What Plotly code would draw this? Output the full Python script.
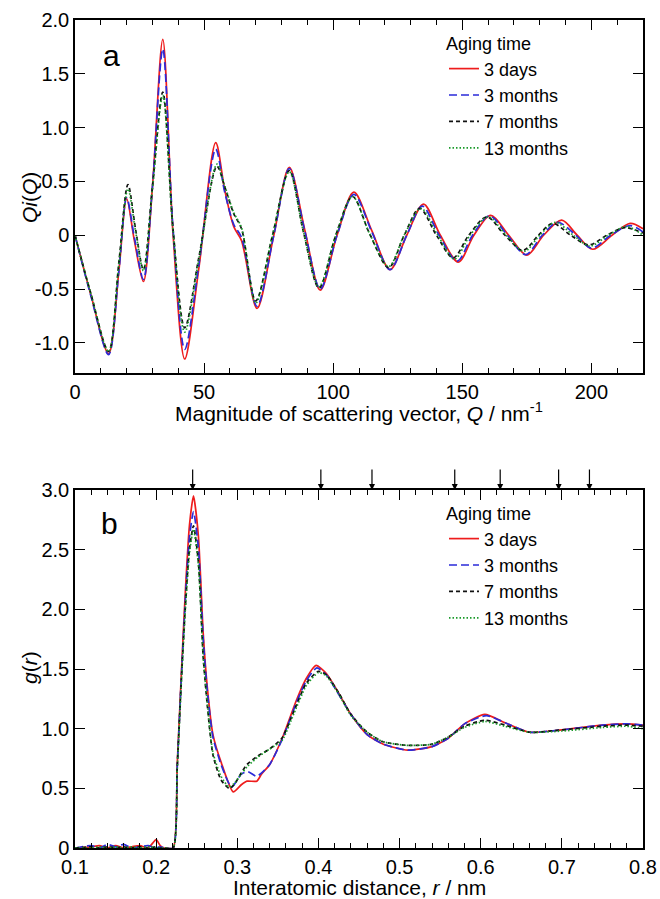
import plotly.graph_objects as go

# ---------------- Panel a : Qi(Q) ----------------
series_names = ["3 days", "3 months", "7 months", "13 months"]

q_3d = [0, 6, 13, 17, 20, 23, 26.5, 30, 34, 38, 42.5, 48, 54.5, 58, 61.5, 64.5, 70.5, 77, 83, 89, 95,
        101.5, 108, 115, 122, 128.5, 135, 141.5, 148.5, 154.5, 161, 168, 175, 181.5, 188.5, 194.5, 200.5, 208, 215, 220]
qi_3d = [0, -0.54, -1.10, -0.33, 0.34, -0.05, -0.43, 0.45, 1.82, 0.0, -1.15, -0.30, 0.86, 0.42, 0.08, -0.05, -0.68, 0.0, 0.63, 0.05, -0.51,
         0.0, 0.40, 0.04, -0.32, 0.0, 0.29, 0.0, -0.25, 0.0, 0.185, 0.0, -0.185, 0.0, 0.14, 0.0, -0.13, 0.0, 0.11, 0.06]

q_3m = [0, 6, 13, 17, 20, 23, 26.5, 30, 34, 38, 42.5, 48, 54.5, 58, 61.5, 64.5, 70.5, 77, 83, 89, 95,
        101.5, 108, 115, 122, 128.5, 134.5, 141, 148, 154, 160.5, 167.5, 174.5, 181, 187, 194, 200, 207.5, 215, 220]
qi_3m = [0, -0.55, -1.11, -0.33, 0.35, -0.02, -0.41, 0.45, 1.73, 0.05, -1.06, -0.27, 0.80, 0.40, 0.10, -0.02, -0.66, 0.0, 0.62, 0.04, -0.50,
         0.0, 0.38, 0.03, -0.32, 0.0, 0.27, 0.0, -0.24, 0.0, 0.18, 0.0, -0.18, 0.0, 0.12, 0.0, -0.12, 0.0, 0.09, 0.03]

q_7m = [0, 6, 13, 17, 20.5, 23.5, 26.5, 30, 34, 38, 42.5, 48, 55, 58, 61.5, 64.5, 70, 76.5, 83, 88.5, 94.5,
        101, 107.5, 114, 121.5, 127.5, 133.5, 140, 146.5, 152.5, 159.5, 166.5, 173.5, 179.5, 185, 192, 199, 206, 213, 220]
qi_7m = [0, -0.53, -1.08, -0.25, 0.47, 0.05, -0.32, 0.45, 1.33, 0.05, -0.86, -0.20, 0.64, 0.45, 0.20, 0.06, -0.61, 0.0, 0.60, 0.03, -0.49,
         0.0, 0.36, 0.02, -0.30, 0.0, 0.25, 0.0, -0.21, 0.0, 0.17, 0.0, -0.14, 0.0, 0.11, 0.0, -0.09, 0.0, 0.07, 0.02]

q_13m = [0, 6, 13, 17, 20.5, 23.5, 26.5, 30, 34, 38, 42.5, 48, 55, 58, 61.5, 64.5, 70, 76.5, 83, 88.5, 94.5,
         101, 107.5, 114, 121.5, 127.5, 134, 140.5, 147, 153, 160, 167, 174, 180, 186, 193, 199.5, 206.5, 213.5, 220]
qi_13m = [0, -0.53, -1.08, -0.27, 0.43, 0.03, -0.33, 0.43, 1.30, 0.03, -0.90, -0.22, 0.66, 0.46, 0.21, 0.07, -0.63, 0.0, 0.59, 0.03, -0.48,
          0.0, 0.36, 0.02, -0.29, 0.0, 0.25, 0.0, -0.22, 0.0, 0.17, 0.0, -0.15, 0.0, 0.12, 0.0, -0.10, 0.0, 0.08, 0.0]

# ---------------- Panel b : g(r) ----------------
r_3d = [0.10, 0.12, 0.13, 0.14, 0.15, 0.16, 0.17, 0.18, 0.19, 0.20, 0.205, 0.21, 0.221, 0.226, 0.231, 0.236, 0.241, 0.246,
        0.252, 0.258, 0.263, 0.27, 0.28, 0.295, 0.305, 0.312, 0.324, 0.33, 0.34, 0.356, 0.373, 0.385, 0.397, 0.41, 0.423,
        0.44, 0.46, 0.48, 0.51, 0.54, 0.56, 0.58, 0.605, 0.63, 0.66, 0.70, 0.75, 0.78, 0.80]
g_3d = [0.0, 0.01, 0.02, 0.0, 0.02, 0.0, 0.01, 0.02, 0.0, 0.07, 0.02, 0.0, 0.0, 0.70, 1.45, 2.15, 2.70, 2.95,
        2.62, 1.80, 1.35, 0.95, 0.72, 0.47, 0.53, 0.56, 0.56, 0.62, 0.70, 0.93, 1.24, 1.42, 1.53, 1.46, 1.32,
        1.12, 0.95, 0.87, 0.82, 0.85, 0.92, 1.04, 1.12, 1.05, 0.97, 0.99, 1.03, 1.04, 1.03]

r_3m = [0.10, 0.12, 0.13, 0.14, 0.15, 0.16, 0.17, 0.18, 0.19, 0.20, 0.205, 0.21, 0.221, 0.226, 0.231, 0.236, 0.241, 0.246,
        0.252, 0.258, 0.263, 0.27, 0.28, 0.293, 0.305, 0.313, 0.324, 0.33, 0.34, 0.356, 0.373, 0.385, 0.398, 0.41, 0.423,
        0.44, 0.46, 0.48, 0.51, 0.54, 0.56, 0.58, 0.607, 0.63, 0.66, 0.70, 0.75, 0.78, 0.80]
g_3m = [0.0, 0.02, 0.0, 0.03, 0.01, 0.03, 0.0, 0.01, 0.02, 0.0, 0.01, 0.0, 0.0, 0.68, 1.42, 2.08, 2.60, 2.82,
        2.52, 1.75, 1.32, 0.93, 0.70, 0.51, 0.62, 0.64, 0.60, 0.63, 0.70, 0.92, 1.22, 1.40, 1.51, 1.45, 1.31,
        1.12, 0.95, 0.87, 0.82, 0.85, 0.92, 1.04, 1.11, 1.05, 0.97, 0.99, 1.03, 1.04, 1.03]

r_7m = [0.10, 0.12, 0.13, 0.14, 0.15, 0.16, 0.17, 0.18, 0.19, 0.20, 0.205, 0.21, 0.221, 0.226, 0.231, 0.236, 0.241, 0.246,
        0.252, 0.258, 0.263, 0.27, 0.28, 0.29, 0.296, 0.305, 0.312, 0.325, 0.34, 0.355, 0.37, 0.385, 0.40, 0.41, 0.425,
        0.44, 0.46, 0.48, 0.51, 0.54, 0.56, 0.58, 0.605, 0.63, 0.66, 0.70, 0.75, 0.78, 0.80]
g_7m = [0.0, 0.01, 0.0, 0.01, 0.0, 0.01, 0.0, 0.01, 0.0, 0.01, 0.0, 0.0, 0.0, 0.68, 1.40, 2.02, 2.50, 2.70,
        2.40, 1.60, 1.20, 0.78, 0.57, 0.50, 0.53, 0.63, 0.70, 0.77, 0.83, 0.92, 1.15, 1.38, 1.48, 1.45, 1.30,
        1.12, 0.97, 0.89, 0.86, 0.87, 0.93, 1.02, 1.07, 1.03, 0.97, 0.99, 1.02, 1.03, 1.02]

r_13m = [0.10, 0.12, 0.13, 0.14, 0.15, 0.16, 0.17, 0.18, 0.19, 0.20, 0.205, 0.21, 0.221, 0.226, 0.231, 0.236, 0.241, 0.246,
         0.252, 0.258, 0.263, 0.27, 0.28, 0.29, 0.296, 0.305, 0.312, 0.325, 0.34, 0.355, 0.37, 0.385, 0.40, 0.41, 0.425,
         0.44, 0.46, 0.48, 0.51, 0.54, 0.56, 0.58, 0.605, 0.63, 0.66, 0.70, 0.75, 0.78, 0.80]
g_13m = [0.0, 0.0, 0.01, 0.0, 0.01, 0.0, 0.01, 0.0, 0.01, 0.0, 0.0, 0.0, 0.0, 0.66, 1.38, 2.00, 2.47, 2.67,
         2.38, 1.60, 1.22, 0.80, 0.60, 0.51, 0.54, 0.62, 0.68, 0.76, 0.83, 0.90, 1.13, 1.36, 1.47, 1.44, 1.29,
         1.11, 0.97, 0.89, 0.86, 0.87, 0.93, 1.01, 1.06, 1.02, 0.97, 0.98, 1.01, 1.02, 1.00]

# arrow markers above panel b (r positions, nm)
arrow_r = [0.245, 0.403, 0.466, 0.568, 0.624, 0.696, 0.734]

# tick labels
qa_tickvals = [2.0, 1.5, 1.0, 0.5, 0, -0.5, -1.0]
qa_ticktext = ["2.0", "1.5", "1.0", "0.5", "0", "-0.5", "-1.0"]
qx_tickvals = [0, 50, 100, 150, 200]
qx_ticktext = ["0", "50", "100", "150", "200"]
g_tickvals = [0, 0.5, 1.0, 1.5, 2.0, 2.5, 3.0]
g_ticktext = ["0", "0.5", "1.0", "1.5", "2.0", "2.5", "3.0"]
r_tickvals = [0.1, 0.2, 0.3, 0.4, 0.5, 0.6, 0.7, 0.8]
r_ticktext = ["0.1", "0.2", "0.3", "0.4", "0.5", "0.6", "0.7", "0.8"]

colors = ["#ee1c1c", "#2b2bd9", "#111111", "#1a9a2a"]
dashes = ["solid", "8px,4px", "4px,3px", "1.5px,2px"]
widths = [1.7, 1.7, 1.7, 1.7]

W, H = 660, 899
FONT = "Liberation Sans, Arial, Helvetica, sans-serif"
TICK_SIZE = 20
TITLE_SIZE = 21
LEG_SIZE = 18


def px_x(p):  # page pixel -> paper x
    return p / W


def px_y(p):  # page pixel -> paper y
    return 1 - p / H


fig = go.Figure()

top = [(q_3d, qi_3d), (q_3m, qi_3m), (q_7m, qi_7m), (q_13m, qi_13m)]
bot = [(r_3d, g_3d), (r_3m, g_3m), (r_7m, g_7m), (r_13m, g_13m)]

for i, (x, y) in enumerate(top):
    fig.add_trace(go.Scatter(x=x, y=y, mode="lines", name=series_names[i],
                             line=dict(color=colors[i], dash=dashes[i], width=widths[i], shape="spline", smoothing=0.9),
                             xaxis="x", yaxis="y", legend="legend"))
for i, (x, y) in enumerate(bot):
    fig.add_trace(go.Scatter(x=x, y=y, mode="lines", name=series_names[i],
                             line=dict(color=colors[i], dash=dashes[i], width=widths[i], shape="spline", smoothing=0.6),
                             xaxis="x2", yaxis="y2", legend="legend2"))

axis_common = dict(showline=True, linecolor="black", linewidth=1.5, mirror="ticks", ticks="inside",
                   ticklen=10, tickwidth=1.3, tickcolor="black", showgrid=False, zeroline=False,
                   automargin=False, tickfont=dict(family=FONT, size=TICK_SIZE, color="black"))

x_dom = [px_x(75), px_x(643)]
ya_dom = [px_y(373), px_y(20)]
yb_dom = [px_y(848), px_y(490)]

fig.update_layout(
    width=W, height=H, margin=dict(l=0, r=0, t=0, b=0, autoexpand=False),
    paper_bgcolor="white", plot_bgcolor="white",
    font=dict(family=FONT, size=TICK_SIZE, color="black"),
    xaxis=dict(axis_common, domain=x_dom, anchor="y", range=[0, 220],
               tickvals=qx_tickvals, ticktext=qx_ticktext,
               minor=dict(ticks="inside", dtick=10, ticklen=5, tickwidth=1.1, tickcolor="black")),
    yaxis=dict(axis_common, domain=ya_dom, anchor="x", range=[-1.28, 2.0],
               tickvals=qa_tickvals, ticktext=qa_ticktext),
    xaxis2=dict(axis_common, domain=x_dom, anchor="y2", range=[0.1, 0.8],
                tickvals=r_tickvals, ticktext=r_ticktext,
                minor=dict(ticks="inside", dtick=0.02, tick0=0.1, ticklen=5, tickwidth=1.1, tickcolor="black")),
    yaxis2=dict(axis_common, domain=yb_dom, anchor="x2", range=[0, 3.0],
                tickvals=g_tickvals, ticktext=g_ticktext),
    legend=dict(x=px_x(444), y=px_y(27), xanchor="left", yanchor="top",
                bgcolor="rgba(0,0,0,0)", font=dict(family=FONT, size=LEG_SIZE),
                title=dict(text="Aging time", font=dict(family=FONT, size=LEG_SIZE)),
                tracegroupgap=0, itemwidth=30),
    legend2=dict(x=px_x(444), y=px_y(497), xanchor="left", yanchor="top",
                 bgcolor="rgba(0,0,0,0)", font=dict(family=FONT, size=LEG_SIZE),
                 title=dict(text="Aging time", font=dict(family=FONT, size=LEG_SIZE)),
                 tracegroupgap=0, itemwidth=30),
    showlegend=True,
)

annotations = [
    dict(text="a", x=px_x(111), y=px_y(56), xref="paper", yref="paper", showarrow=False,
         xanchor="center", yanchor="middle", font=dict(family=FONT, size=30)),
    dict(text="b", x=px_x(109), y=px_y(523), xref="paper", yref="paper", showarrow=False,
         xanchor="center", yanchor="middle", font=dict(family=FONT, size=30)),
    # axis titles
    dict(text="Magnitude of scattering vector, <i>Q</i> / nm<sup>-1</sup>", x=px_x(359), y=px_y(412),
         xref="paper", yref="paper", showarrow=False, xanchor="center", yanchor="middle",
         font=dict(family=FONT, size=TITLE_SIZE)),
    dict(text="Interatomic distance, <i>r</i> / nm", x=px_x(359), y=px_y(887),
         xref="paper", yref="paper", showarrow=False, xanchor="center", yanchor="middle",
         font=dict(family=FONT, size=TITLE_SIZE)),
    dict(text="<i>Qi</i>(<i>Q</i>)", x=px_x(29), y=px_y(198), textangle=-90,
         xref="paper", yref="paper", showarrow=False, xanchor="center", yanchor="middle",
         font=dict(family=FONT, size=TITLE_SIZE)),
    dict(text="<i>g</i>(<i>r</i>)", x=px_x(29), y=px_y(668), textangle=-90,
         xref="paper", yref="paper", showarrow=False, xanchor="center", yanchor="middle",
         font=dict(family=FONT, size=TITLE_SIZE)),
]
for r in arrow_r:
    annotations.append(dict(x=r, y=1.0, xref="x2", yref="y2 domain", text="", showarrow=True,
                            ax=0, ay=-22, arrowhead=2, arrowsize=1.0, arrowwidth=1.2, arrowcolor="black",
                            standoff=0))
fig.update_layout(annotations=annotations)

# remove the default 8px page margin so the 660x899 figure fills the window exactly
fig.write_html("out.html", config={"displayModeBar": False},
               post_script="document.body.style.margin='0';document.body.style.overflow='hidden';")
